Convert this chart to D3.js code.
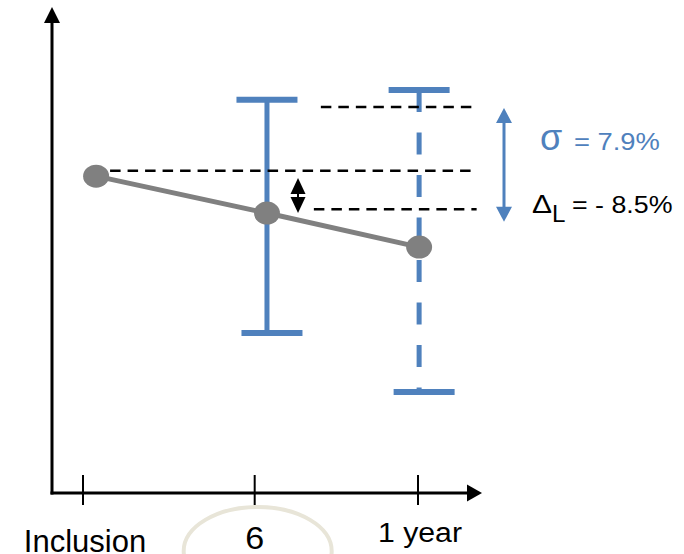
<!DOCTYPE html>
<html>
<head>
<meta charset="utf-8">
<script src="https://cdn.jsdelivr.net/npm/d3@7"></script>
<style>
  html, body { margin: 0; padding: 0; background: #fff; }
  svg { display: block; }
  text { font-family: "Liberation Sans", Arial, sans-serif; }
</style>
</head>
<body>
<svg id="chart" width="684" height="554"></svg>
<script>
// Time points (months since inclusion) and their labels
const tickMonths = [0, 6.15, 12];
const tickLabels = ["Inclusion", "6", "1 year"];

// Mean measurement at each visit (relative units)
const pointMonths = [0.47, 6.59, 12.04];
const meanValues = [65.2, 57.6, 50.6];

// Spread bars (low / high) at 6 months and 1 year
const barMonths = [6.59, 12.04];
const barLow = [32.9, 20.8];
const barHigh = [80.9, 82.9];
const barDashed = [false, true];

// Horizontal reference levels and their extent in months
const refLevels = [79.4, 66.3, 58.4];
const refFrom = [8.52, 0.97, 8.27];
const refTo = [14.07, 13.93, 14.1];

// Difference markers
const sigmaSpan = [79.2, 55.8];
const deltaSpan = [64.8, 57.6];

const BLUE = "#4f81bd";
const GREY = "#808080";

const svg = d3.select("#chart");

const x = d3.scaleLinear().domain([0, 12]).range([83, 418]);
const y = d3.scaleLinear().domain([0, 100]).range([493, 7]);
const x0 = 52, yAxis = 493;

// ---- axes with arrow heads ----
svg.append("line").attr("x1", x0).attr("x2", x0).attr("y1", y(100) + 14).attr("y2", yAxis + 1.5)
  .attr("stroke", "#000").attr("stroke-width", 3);
svg.append("path").attr("d", `M${x0},${y(100)} L${x0 - 8},${y(100) + 16} L${x0 + 8},${y(100) + 16} Z`).attr("fill", "#000");

const xEnd = 482;
svg.append("line").attr("x1", x0 - 1.5).attr("x2", xEnd - 12).attr("y1", yAxis).attr("y2", yAxis)
  .attr("stroke", "#000").attr("stroke-width", 3);
svg.append("path").attr("d", `M${xEnd},${yAxis} L${xEnd - 15},${yAxis - 8.5} L${xEnd - 15},${yAxis + 8.5} Z`).attr("fill", "#000");

svg.selectAll("line.tick").data(tickMonths).join("line")
  .attr("class", "tick")
  .attr("x1", d => x(d)).attr("x2", d => x(d))
  .attr("y1", yAxis - 18).attr("y2", yAxis + 12)
  .attr("stroke", "#000").attr("stroke-width", 2);

// highlight ring around the 6-month label
svg.append("ellipse")
  .attr("cx", x(tickMonths[1]) + 3).attr("cy", 551).attr("rx", 74).attr("ry", 44)
  .attr("fill", "none").attr("stroke", "#e8e5d8").attr("stroke-width", 4);

// tick labels
const labelStyle = [
  { size: 31, sx: 1.0, base: 552, dx: 2 },
  { size: 31, sx: 1.1, base: 549, dx: 0 },
  { size: 27, sx: 1.12, base: 542, dx: 2 }
];
svg.selectAll("text.tl").data(tickLabels).join("text")
  .attr("class", "tl")
  .attr("transform", (d, i) => `translate(${x(tickMonths[i]) + labelStyle[i].dx},${labelStyle[i].base}) scale(${labelStyle[i].sx},1)`)
  .attr("text-anchor", "middle")
  .attr("font-size", (d, i) => labelStyle[i].size)
  .attr("fill", "#000")
  .text(d => d);

// ---- spread bars ----
const capHalf = 30.5;
barMonths.forEach((m, i) => {
  const cx = x(m);
  svg.append("line")
    .attr("x1", cx).attr("x2", cx)
    .attr("y1", y(barHigh[i])).attr("y2", y(barLow[i]))
    .attr("stroke", BLUE).attr("stroke-width", 5)
    .attr("stroke-dasharray", barDashed[i] ? "22,20.5" : null);
  svg.append("line")
    .attr("x1", cx - capHalf).attr("x2", cx + capHalf)
    .attr("y1", y(barHigh[i])).attr("y2", y(barHigh[i]))
    .attr("stroke", BLUE).attr("stroke-width", 6);
  svg.append("line")
    .attr("x1", cx - capHalf + 5).attr("x2", cx + capHalf + 5)
    .attr("y1", y(barLow[i])).attr("y2", y(barLow[i]))
    .attr("stroke", BLUE).attr("stroke-width", 6);
});

// ---- reference dashed levels ----
svg.selectAll("line.ref").data(refLevels).join("line")
  .attr("class", "ref")
  .attr("x1", (d, i) => x(refFrom[i])).attr("x2", (d, i) => x(refTo[i]))
  .attr("y1", d => y(d)).attr("y2", d => y(d))
  .attr("stroke", "#000").attr("stroke-width", 2.5)
  .attr("stroke-dasharray", "10.5,7");

// ---- mean trajectory ----
const pts = pointMonths.map((m, i) => [x(m), y(meanValues[i])]);
svg.append("path")
  .attr("d", d3.line()(pts))
  .attr("fill", "none").attr("stroke", GREY).attr("stroke-width", 5);
svg.selectAll("ellipse.pt").data(pts).join("ellipse")
  .attr("class", "pt")
  .attr("cx", d => d[0]).attr("cy", d => d[1])
  .attr("rx", 13).attr("ry", 11.5)
  .attr("fill", GREY);

// ---- double-headed arrows ----
function doubleArrow(cx, yTop, yBot, headW, headH, color, shaft) {
  const g = svg.append("g");
  g.append("line").attr("x1", cx).attr("x2", cx)
    .attr("y1", yTop + headH - 1).attr("y2", yBot - headH + 1)
    .attr("stroke", color).attr("stroke-width", shaft);
  g.append("path").attr("d", `M${cx},${yTop} L${cx - headW / 2},${yTop + headH} L${cx + headW / 2},${yTop + headH} Z`).attr("fill", color);
  g.append("path").attr("d", `M${cx},${yBot} L${cx - headW / 2},${yBot - headH} L${cx + headW / 2},${yBot - headH} Z`).attr("fill", color);
}
doubleArrow(504, y(sigmaSpan[0]), y(sigmaSpan[1]), 16, 15, BLUE, 3);
doubleArrow(298, y(deltaSpan[0]), y(deltaSpan[1]), 15, 16, "#000", 2);

// ---- annotations ----
const sig = svg.append("g").attr("transform", "translate(540,150)");
sig.append("text").attr("font-size", 36).attr("fill", BLUE).text("σ");
sig.append("text").attr("transform", "translate(34,0) scale(1.14,1)")
  .attr("font-size", 24).attr("fill", BLUE).text("= 7.9%");

const del = svg.append("g").attr("transform", "translate(532,213)");
del.append("text").attr("transform", "scale(1.2,1)").attr("font-size", 25).attr("fill", "#000").text("Δ");
del.append("text").attr("transform", "translate(20,9) scale(1.05,1)").attr("font-size", 23).attr("fill", "#000").text("L");
del.append("text").attr("transform", "translate(40,0) scale(1.14,1)")
  .attr("font-size", 23.5).attr("fill", "#000").text("= - 8.5%");
</script>
</body>
</html>
